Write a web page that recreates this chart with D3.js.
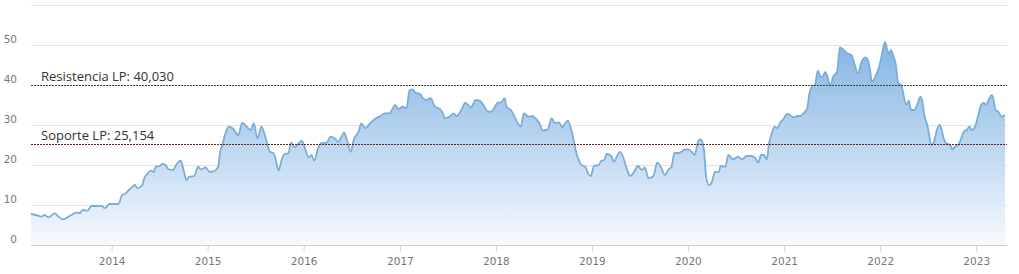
<!DOCTYPE html>
<html>
<head>
<meta charset="utf-8">
<script src="https://cdn.jsdelivr.net/npm/d3@7"></script>
<style>
  html, body { margin: 0; padding: 0; background: #fff; }
  svg { display: block; }
</style>
</head>
<body>
<script>
// fechas como año decimal, precio de cierre
let years = [
  2013.16,2013.21,2013.27,2013.30,2013.34,2013.41,2013.44,2013.49,2013.54,2013.58,2013.63,2013.67,2013.70,2013.75,
  2013.79,2013.84,2013.89,2013.93,2013.98,2014.02,2014.07,2014.11,2014.14,2014.18,2014.21,2014.24,2014.27,2014.32,
  2014.34,2014.37,2014.41,2014.44,2014.46,2014.50,2014.53,2014.56,2014.59,2014.64,2014.67,2014.72,2014.74,2014.78,
  2014.81,2014.86,2014.90,2014.93,2014.98,2015.02,2015.07,2015.11,2015.13,2015.15,2015.18,2015.22,2015.26,2015.32,
  2015.36,2015.40,2015.45,2015.48,2015.52,2015.56,2015.61,2015.65,2015.69,2015.71,2015.74,2015.77,2015.80,2015.84,
  2015.87,2015.91,2015.94,2015.98,2016.02,2016.05,2016.08,2016.11,2016.15,2016.18,2016.24,2016.28,2016.32,2016.36,
  2016.42,2016.45,2016.49,2016.52,2016.57,2016.60,2016.64,2016.69,2016.72,2016.76,2016.80,2016.84,2016.89,2016.92,
  2016.95,2016.99,2017.02,2017.07,2017.10,2017.13,2017.16,2017.21,2017.24,2017.28,2017.32,2017.36,2017.42,2017.44,
  2017.47,2017.52,2017.56,2017.59,2017.64,2017.68,2017.71,2017.74,2017.79,2017.83,2017.87,2017.90,2017.94,2017.97,
  2018.02,2018.06,2018.09,2018.11,2018.16,2018.21,2018.26,2018.29,2018.34,2018.38,2018.41,2018.45,2018.49,2018.54,
  2018.58,2018.61,2018.66,2018.69,2018.72,2018.75,2018.78,2018.81,2018.83,2018.86,2018.89,2018.93,2018.96,2018.99,
  2019.02,2019.07,2019.10,2019.13,2019.15,2019.20,2019.23,2019.26,2019.29,2019.33,2019.36,2019.40,2019.44,2019.48,
  2019.52,2019.55,2019.59,2019.64,2019.68,2019.72,2019.76,2019.80,2019.83,2019.86,2019.90,2019.93,2019.97,2020.00,
  2020.04,2020.07,2020.10,2020.12,2020.14,2020.17,2020.19,2020.22,2020.25,2020.28,2020.32,2020.34,2020.39,2020.42,
  2020.47,2020.52,2020.56,2020.61,2020.66,2020.70,2020.73,2020.76,2020.79,2020.82,2020.84,2020.87,2020.90,2020.93,
  2020.96,2020.99,2021.03,2021.06,2021.10,2021.13,2021.17,2021.20,2021.24,2021.26,2021.29,2021.32,2021.35,2021.38,
  2021.40,2021.43,2021.45,2021.48,2021.51,2021.55,2021.58,2021.62,2021.66,2021.70,2021.73,2021.77,2021.80,2021.84,
  2021.86,2021.90,2021.91,2021.95,2021.99,2022.02,2022.05,2022.07,2022.09,2022.11,2022.14,2022.16,2022.19,2022.22,
  2022.24,2022.27,2022.30,2022.32,2022.36,2022.39,2022.42,2022.44,2022.46,2022.49,2022.51,2022.53,2022.56,2022.59,
  2022.62,2022.64,2022.66,2022.69,2022.73,2022.75,2022.78,2022.81,2022.84,2022.87,2022.90,2022.93,2022.95,2022.98,
  2023.02,2023.05,2023.08,2023.10,2023.13,2023.16,2023.18,2023.20,2023.23,2023.25,2023.27,2023.30
];
let prices = [
  7.75,7.5,7.1,7.5,6.9,7.9,7.25,6.4,6.9,7.5,8.1,8.0,8.75,8.6,
  9.75,9.75,9.8,9.2,10.25,10.25,10.25,12.5,12.75,13.75,14.4,15,14.2,15,
  16.7,17.75,18.6,18.25,19.6,19.75,20.25,20,19,18.75,20,21.1,19.6,16.25,
  17.1,17.25,19.6,18.9,19.4,18.3,18.5,19.6,23.3,24.6,27.5,29.6,29.2,27.5,
  30.6,29.75,28.75,30.4,26.7,29.6,26.25,23.3,22.9,21.25,18.6,21.25,22.75,22.9,
  25.6,24.4,25.25,26.1,23.75,21.9,22.5,21.1,24.2,25.4,25.6,27.1,26.7,25.8,
  28.1,26.25,23.3,26.25,28.3,30.4,29.2,30.4,31.1,31.8,32.25,32.9,32.9,33.9,
  35,33.9,34.6,34.2,38.75,38.9,38.1,37.75,36.7,36.25,36.7,34.75,33.9,33.3,
  31.7,32.1,32.9,32.25,33.75,35.6,35,34.4,36.25,36.1,35,33.75,33.25,33.75,
  35.6,35.75,36.7,34.6,33.6,31.25,29.6,32.9,32.1,32.25,31.7,30.6,28.6,28.9,
  31.7,30.6,30.6,29.4,30.4,31.1,29.2,26.25,23.75,21.4,20,19.6,17.9,17.25,
  19.75,20,21.1,21.25,22.75,22.25,20.8,22.1,23.3,21.7,19.2,17.25,18.3,19.75,
  18.75,19.4,16.7,17.25,20.6,19.4,17.5,18.9,19.6,23.1,23,23.3,23.9,23.9,
  23.3,22.5,25.4,26.4,26.25,22.9,16.9,15,15.8,18.3,18.3,19.75,19.6,22.5,
  21.4,22.1,21.4,22.25,22.25,21.7,20.6,22.5,22.5,21.4,25,27.9,29.6,29.2,
  30.6,31.4,32.75,32.5,31.9,32.25,32.25,32.9,34.2,37.5,39.6,40,43.6,42.1,
  42.1,43.3,42.1,39.75,42.1,43.3,49.4,48.75,47.9,47.5,45.4,42.9,45.4,46.9,
  46.7,42.9,40.8,42.1,44.6,47.9,50.8,49.2,47.75,48.75,47.1,45.4,40.4,40,
  37.9,35,36.1,33.75,33.75,35.4,37.1,35.8,32.5,30,27.5,25,25.8,28.75,
  30,28.75,26.7,25.4,25,23.9,24.6,25,26.4,28.3,28.75,29.6,28.75,29.2,
  32.25,35,35.6,35,36.25,37.5,36.4,33.75,33.3,32.5,32.1,32.5
];

let yTicks = [0, 10, 20, 30, 40, 50, 60];
let yTickLabels = ["0", "10", "20", "30", "40", "50", ""];
let xTickYears = [2014, 2015, 2016, 2017, 2018, 2019, 2020, 2021, 2022, 2023];

let levelNames = ["Resistencia LP: 40,030", "Soporte LP: 25,154"];
let levelValues = [40.030, 25.154];
let levelColors = ["#23572a", "#6e1818"];

let main = function () {
    let width = 1019, height = 274;
    let left = 31, right = 1006, top = 5, bottom = 245;

    let decToDate = function (d) {
        let y = Math.floor(d);
        let a = new Date(y, 0, 1), b = new Date(y + 1, 0, 1);
        return new Date(+a + (d - y) * (b - a));
    };

    let data = years.map((y, i) => ({date: decToDate(y), value: prices[i]}));

    let svg = d3.select("body").append("svg")
        .attr("width", width)
        .attr("height", height);

    let x = d3.scaleTime()
        .domain(d3.extent(data, d => d.date))
        .range([left, right - 1]);

    let y = d3.scaleLinear()
        .domain([0, 60])
        .range([bottom, top]);

    // gradient for the area
    let grad = svg.append("defs").append("linearGradient")
        .attr("id", "fillGrad")
        .attr("gradientUnits", "userSpaceOnUse")
        .attr("x1", 0).attr("x2", 0)
        .attr("y1", y(52)).attr("y2", y(0));
    grad.append("stop").attr("offset", "0%").attr("stop-color", "#82b4e3");
    grad.append("stop").attr("offset", "55%").attr("stop-color", "#bfd9f1");
    grad.append("stop").attr("offset", "100%").attr("stop-color", "#f7fafe");

    // horizontal grid
    svg.append("g")
        .selectAll("line")
        .data(yTicks.filter(t => t > 0))
        .enter().append("line")
        .attr("x1", left).attr("x2", right + 1)
        .attr("y1", d => Math.round(y(d)) + 0.5)
        .attr("y2", d => Math.round(y(d)) + 0.5)
        .attr("stroke", "#e3e3e3")
        .attr("stroke-width", 1);

    // y labels
    svg.append("g")
        .selectAll("text")
        .data(yTicks)
        .enter().append("text")
        .attr("x", 17)
        .attr("y", d => y(d) - 2)
        .attr("text-anchor", "end")
        .style("font-family", "'DejaVu Sans', sans-serif")
        .style("font-size", "10.5px")
        .style("fill", "#777")
        .text((d, i) => yTickLabels[i]);

    let area = d3.area()
        .x(d => x(d.date))
        .y0(y(0))
        .y1(d => y(d.value))
        .curve(d3.curveMonotoneX);

    let line = d3.line()
        .x(d => x(d.date))
        .y(d => y(d.value))
        .curve(d3.curveMonotoneX);

    svg.append("path")
        .datum(data)
        .attr("d", area)
        .attr("fill", "url(#fillGrad)");

    svg.append("path")
        .datum(data)
        .attr("d", line)
        .attr("fill", "none")
        .attr("stroke", "#7badd9")
        .attr("stroke-width", 1.8)
        .attr("stroke-linejoin", "round");

    // x axis
    let xAxis = d3.axisBottom(x)
        .tickValues(xTickYears.map(yr => new Date(yr, 0, 1)))
        .tickFormat(d3.timeFormat("%Y"))
        .tickSize(6)
        .tickPadding(6);

    let gx = svg.append("g")
        .attr("transform", `translate(0,${bottom + 0.5})`)
        .call(xAxis);
    gx.select(".domain")
        .attr("d", `M${left},0H${right + 1}`)
        .attr("stroke", "#cfcfcf");
    gx.selectAll(".tick line").attr("stroke", "#cfcfcf");
    gx.selectAll(".tick text")
        .style("font-family", "'DejaVu Sans', sans-serif")
        .style("font-size", "10.5px")
        .style("fill", "#777");

    // soporte / resistencia
    let lv = svg.append("g")
        .selectAll("g")
        .data(levelValues)
        .enter().append("g");

    lv.append("line")
        .attr("x1", left).attr("x2", right + 1)
        .attr("y1", d => Math.round(y(d)) + 0.5)
        .attr("y2", d => Math.round(y(d)) + 0.5)
        .attr("stroke", (d, i) => levelColors[i])
        .attr("stroke-width", 1)
        .attr("stroke-dasharray", "2,1");

    lv.append("text")
        .attr("x", 41)
        .attr("y", d => y(d) - 4)
        .style("font-family", "'Open Sans', sans-serif")
        .style("font-size", "13px")
        .style("fill", "#333")
        .text((d, i) => levelNames[i]);
};

main();
</script>
</body>
</html>
